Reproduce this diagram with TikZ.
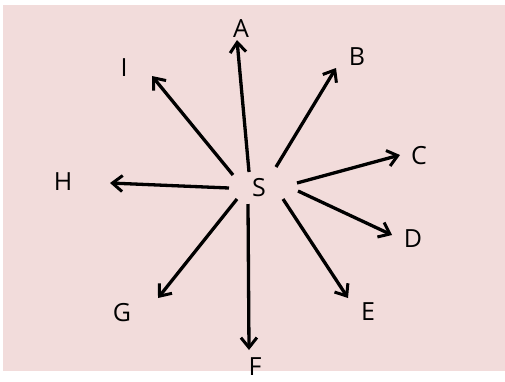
\documentclass[tikz,border=0pt]{standalone}
\usepackage{fontspec}
\setmainfont{Open Sans}
\usetikzlibrary{arrows.meta}
\definecolor{bgpink}{HTML}{F2DCDB}
\begin{document}
\begin{tikzpicture}[x=1pt,y=-1pt,
  lbl/.style={font=\fontsize{25}{28}\selectfont, inner sep=0pt, anchor=center},
  ray/.style={line width=3.3pt, -{Straight Barb[length=10pt,width=16pt,line width=3pt]}}]
\useasboundingbox (0,0) rectangle (505,381);
\fill[bgpink] (3,5) rectangle (505,371);
\node[lbl] (S) at (259,188) {S};
\node[lbl] (A) at (241,29) {A};
\node[lbl] (B) at (357,57) {B};
\node[lbl] (C) at (419,156) {C};
\node[lbl] (D) at (413,239) {D};
\node[lbl] (E) at (368,312) {E};
\node[lbl] (F) at (255,367) {F};
\node[lbl] (G) at (122,313) {G};
\node[lbl] (H) at (63,182) {H};
\node[lbl] (I) at (124,68) {I};
\coordinate (sA) at (249,172); \coordinate (tA) at (237,40);
\coordinate (sB) at (276,167); \coordinate (tB) at (336,68);
\coordinate (sC) at (297,183); \coordinate (tC) at (400,155);
\coordinate (sD) at (298,191); \coordinate (tD) at (392,235);
\coordinate (sE) at (283,199); \coordinate (tE) at (348,298);
\coordinate (sF) at (248,204); \coordinate (tF) at (249,350);
\coordinate (sG) at (237,199); \coordinate (tG) at (158,298);
\coordinate (sH) at (229,188); \coordinate (tH) at (110,183);
\coordinate (sI) at (233,175); \coordinate (tI) at (152,76);
\foreach \k in {A,B,C,D,E,F,G,H,I} \draw[ray] (s\k) -- (t\k);
\end{tikzpicture}
\end{document}
